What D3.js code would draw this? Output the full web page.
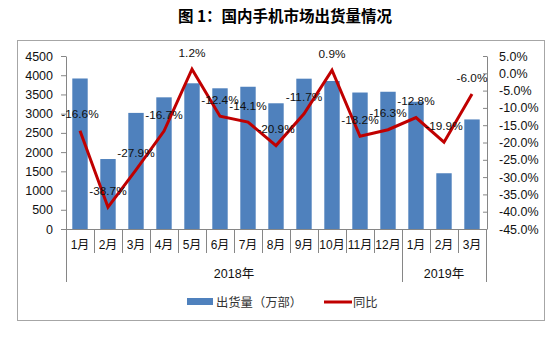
<!DOCTYPE html>
<html><head><meta charset="utf-8">
<script src="https://cdn.jsdelivr.net/npm/d3@7"></script>
<style>body{margin:0;background:#fff}svg{display:block}</style>
</head><body>
<script>
const categories = ["1月","2月","3月","4月","5月","6月","7月","8月","9月","10月","11月","12月","1月","2月","3月"];
const shipments = [3915,1820,3020,3425,3790,3660,3700,3270,3910,3850,3550,3570,3310,1450,2850];
const yoy = [-16.6,-38.7,-27.9,-16.7,1.2,-12.4,-14.1,-20.9,-11.7,0.9,-18.2,-16.3,-12.8,-19.9,-6.0];
const years = ["2018年","2019年"];
const yearSpans = [12,3];
const leftTicks = [0,500,1000,1500,2000,2500,3000,3500,4000,4500];
const rightTicks = [5,0,-5,-10,-15,-20,-25,-30,-35,-40,-45];
const title = "图 1：国内手机市场出货量情况";
const legendLabels = ["出货量（万部）","同比"];

const W=555,H=343;
const svg=d3.select("body").append("svg").attr("width",W).attr("height",H);
const font='"Liberation Sans","Noto Sans CJK SC",sans-serif';
const cjk='"Noto Sans CJK SC",sans-serif';
const blue="#4F81BD", red="#C00000", axisCol="#868686";

svg.append("text").attr("x",285).attr("y",22).attr("text-anchor","middle")
  .attr("font-family",cjk).attr("font-weight","bold").attr("font-size",15.5).attr("fill","#000").text(title);

svg.append("rect").attr("x",17.5).attr("y",40.5).attr("width",527).attr("height",280)
  .attr("fill","none").attr("stroke","#a6a6a6").attr("stroke-width",1);

const x0=66, x1=486, yTop=56, yBot=229;
const x=d3.scaleBand().domain(d3.range(categories.length)).range([x0,x1]).padding(0);
const yL=d3.scaleLinear().domain([0,4500]).range([yBot,yTop]);
const yR=d3.scaleLinear().domain([-45,5]).range([yBot,yTop]);
const bw=x.bandwidth()*0.55;

svg.append("g").selectAll("rect").data(shipments).join("rect")
  .attr("x",(d,i)=>x(i)+(x.bandwidth()-bw)/2).attr("width",bw)
  .attr("y",d=>yL(d)).attr("height",d=>yBot-yL(d)).attr("fill",blue);

// left axis
const gL=svg.append("g").attr("transform",`translate(${x0},0)`)
  .call(d3.axisLeft(yL).tickValues(leftTicks).tickSize(5).tickSizeOuter(0).tickPadding(8).tickFormat(d3.format("d")));
// right axis
const gR=svg.append("g").attr("transform",`translate(487,0)`)
  .call(d3.axisRight(yR).tickValues(rightTicks).tickSizeInner(-4).tickSizeOuter(0).tickPadding(12).tickFormat(d=>d.toFixed(1)+"%"));
// bottom axis labels
const gB=svg.append("g").attr("transform",`translate(0,${yBot})`)
  .call(d3.axisBottom(x).tickSize(0).tickPadding(11).tickFormat(i=>categories[i]));
gB.select(".domain").remove();
[gL,gR,gB].forEach(g=>{
  g.selectAll("text").attr("font-family",font).attr("font-size",12.5).attr("fill","#111");
  g.selectAll("line").attr("stroke",axisCol);
  g.select(".domain").attr("stroke",axisCol);
});
gB.selectAll("text").attr("font-size",12);

// bottom axis line and separators
const sep=svg.append("g").attr("stroke",axisCol).attr("stroke-width",1);
sep.append("line").attr("x1",x0).attr("x2",x1+1).attr("y1",yBot+0.5).attr("y2",yBot+0.5);
const groupEdges=[0];
yearSpans.forEach(s=>groupEdges.push(groupEdges[groupEdges.length-1]+s));
d3.range(categories.length+1).forEach(i=>{
  const xx=(i<categories.length?x(i):x1)+0.5;
  const isGroup=groupEdges.includes(i);
  sep.append("line").attr("x1",xx).attr("x2",xx).attr("y1",yBot).attr("y2",isGroup?282:253);
});
years.forEach((yname,k)=>{
  const a=x(groupEdges[k]);
  const b=groupEdges[k+1]<categories.length?x(groupEdges[k+1]):x1;
  svg.append("text").attr("x",(a+b)/2).attr("y",278).attr("text-anchor","middle")
    .attr("font-family",font).attr("font-size",12.5).attr("fill","#111").text(yname);
});

// line
const line=d3.line().x((d,i)=>x(i)+x.bandwidth()/2).y(d=>yR(d));
svg.append("path").datum(yoy).attr("d",line).attr("fill","none").attr("stroke",red)
  .attr("stroke-width",3).attr("stroke-linejoin","miter");

svg.append("g").selectAll("text").data(yoy).join("text")
  .attr("x",(d,i)=>x(i)+x.bandwidth()/2).attr("y",d=>yR(d)-12.5)
  .attr("text-anchor","middle").attr("font-family",font).attr("font-size",11.8).attr("fill","#111")
  .text(d=>d.toFixed(1)+"%");

// legend
const lg=svg.append("g");
lg.append("rect").attr("x",187).attr("y",298).attr("width",26).attr("height",7).attr("fill",blue);
lg.append("text").attr("x",216).attr("y",306.5).attr("font-family",cjk).attr("font-size",12.3).attr("fill","#333").text(legendLabels[0]);
lg.append("line").attr("x1",324).attr("x2",352).attr("y1",302).attr("y2",302).attr("stroke",red).attr("stroke-width",3);
lg.append("text").attr("x",353).attr("y",306.5).attr("font-family",cjk).attr("font-size",12.3).attr("fill","#333").text(legendLabels[1]);
</script>
</body></html>
